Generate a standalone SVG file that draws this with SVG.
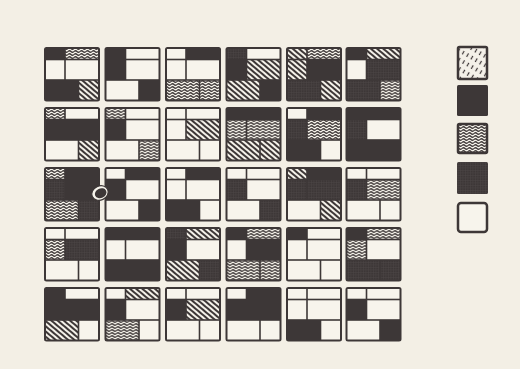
<svg xmlns="http://www.w3.org/2000/svg" width="520" height="369" viewBox="0 0 520 369">
<style>
.bg{fill:#f3efe5}
.sq{fill:#3d3737}
.w{fill:#f7f4ec}
.h{fill:url(#h)}
.t{fill:url(#t)}
.g{fill:url(#g)}
.l1{fill:url(#h2)}
.lg{stroke:#3d3737;stroke-width:2.5}
</style>
<defs>
<pattern id="h" width="4" height="4" patternUnits="userSpaceOnUse" patternTransform="rotate(40)">
<rect width="4" height="4" fill="#f4f1e9"/><rect width="4" height="2" fill="#3d3737"/>
</pattern>
<pattern id="t" width="6" height="3" patternUnits="userSpaceOnUse">
<rect width="6" height="3" fill="#f4f1e9"/><path d="M0 1.5Q1.5 0 3 1.5T6 1.5" fill="none" stroke="#3d3737" stroke-width="1.3"/>
</pattern>
<pattern id="g" width="2.5" height="2.5" patternUnits="userSpaceOnUse">
<rect width="2.5" height="2.5" fill="#3d3737"/><path d="M0 0.3H2.5M0.3 0V2.5" stroke="#4d4647" stroke-width="0.5"/>
</pattern>
<pattern id="h2" width="8" height="5" patternUnits="userSpaceOnUse" patternTransform="rotate(-60)">
<rect width="8" height="5" fill="#f4f1e9"/><path d="M0 2.5h4" stroke="#3d3737" stroke-width="1.2"/>
</pattern>
</defs>
<rect class="bg" width="520" height="369"/>

<g id="r1c1" transform="translate(44,47)"><rect class="sq" width="56" height="54.5" rx="2.5"/><rect class="t" x="21.8" y="2" width="32.2" height="9.7"/><rect class="w" x="2" y="13.3" width="18.2" height="18.9"/><rect class="w" x="21.8" y="13.3" width="32.2" height="18.9"/><rect class="h" x="35.3" y="33.8" width="18.7" height="18.7"/></g>
<g id="r1c2" transform="translate(104.5,47)"><rect class="sq" width="56" height="54.5" rx="2.5"/><rect class="w" x="21.8" y="2" width="32.2" height="9.7"/><rect class="w" x="21.8" y="13.3" width="32.2" height="18.9"/><rect class="w" x="2" y="33.8" width="31.7" height="18.7"/></g>
<g id="r1c3" transform="translate(165,47)"><rect class="sq" width="56" height="54.5" rx="2.5"/><rect class="w" x="2" y="2" width="18.2" height="9.7"/><rect class="w" x="2" y="13.3" width="18.2" height="18.9"/><rect class="w" x="21.8" y="13.3" width="32.2" height="18.9"/><rect class="t" x="2" y="33.8" width="31.7" height="18.7"/><rect class="t" x="35.3" y="33.8" width="18.7" height="18.7"/></g>
<g id="r1c4" transform="translate(225.5,47)"><rect class="sq" width="56" height="54.5" rx="2.5"/><rect class="g" x="2" y="2" width="18.2" height="9.7"/><rect class="w" x="21.8" y="2" width="32.2" height="9.7"/><rect class="h" x="21.8" y="13.3" width="32.2" height="18.9"/><rect class="h" x="2" y="33.8" width="31.7" height="18.7"/></g>
<g id="r1c5" transform="translate(286,47)"><rect class="sq" width="56" height="54.5" rx="2.5"/><rect class="h" x="2" y="2" width="18.2" height="9.7"/><rect class="t" x="21.8" y="2" width="32.2" height="9.7"/><rect class="h" x="2" y="13.3" width="18.2" height="18.9"/><rect class="g" x="2" y="33.8" width="31.7" height="18.7"/><rect class="h" x="35.3" y="33.8" width="18.7" height="18.7"/></g>
<g id="r1c6" transform="translate(345.5,47)"><rect class="sq" width="56" height="54.5" rx="2.5"/><rect class="h" x="21.8" y="2" width="32.2" height="9.7"/><rect class="w" x="2" y="13.3" width="18.2" height="18.9"/><rect class="g" x="21.8" y="13.3" width="32.2" height="18.9"/><rect class="g" x="2" y="33.8" width="31.7" height="18.7"/><rect class="t" x="35.3" y="33.8" width="18.7" height="18.7"/></g>

<g id="r2c1" transform="translate(44,107)"><rect class="sq" width="56" height="54.5" rx="2.5"/><rect class="t" x="2" y="2" width="18.2" height="9.7"/><rect class="w" x="21.8" y="2" width="32.2" height="9.7"/><rect class="w" x="2" y="33.8" width="31.7" height="18.7"/><rect class="h" x="35.3" y="33.8" width="18.7" height="18.7"/></g>
<g id="r2c2" transform="translate(104.5,107)"><rect class="sq" width="56" height="54.5" rx="2.5"/><rect class="t" x="2" y="2" width="18.2" height="9.7"/><rect class="w" x="21.8" y="2" width="32.2" height="9.7"/><rect class="w" x="21.8" y="13.3" width="32.2" height="18.9"/><rect class="w" x="2" y="33.8" width="31.7" height="18.7"/><rect class="t" x="35.3" y="33.8" width="18.7" height="18.7"/></g>
<g id="r2c3" transform="translate(165,107)"><rect class="sq" width="56" height="54.5" rx="2.5"/><rect class="w" x="2" y="2" width="18.2" height="9.7"/><rect class="w" x="21.8" y="2" width="32.2" height="9.7"/><rect class="w" x="2" y="13.3" width="18.2" height="18.9"/><rect class="h" x="21.8" y="13.3" width="32.2" height="18.9"/><rect class="w" x="2" y="33.8" width="31.7" height="18.7"/><rect class="w" x="35.3" y="33.8" width="18.7" height="18.7"/></g>
<g id="r2c4" transform="translate(225.5,107)"><rect class="sq" width="56" height="54.5" rx="2.5"/><rect class="t" x="2" y="13.3" width="18.2" height="18.9"/><rect class="t" x="21.8" y="13.3" width="32.2" height="18.9"/><rect class="h" x="2" y="33.8" width="31.7" height="18.7"/><rect class="h" x="35.3" y="33.8" width="18.7" height="18.7"/></g>
<g id="r2c5" transform="translate(286,107)"><rect class="sq" width="56" height="54.5" rx="2.5"/><rect class="w" x="2" y="2" width="18.2" height="9.7"/><rect class="g" x="2" y="13.3" width="18.2" height="18.9"/><rect class="t" x="21.8" y="13.3" width="32.2" height="18.9"/><rect class="w" x="35.3" y="33.8" width="18.7" height="18.7"/></g>
<g id="r2c6" transform="translate(345.5,107)"><rect class="sq" width="56" height="54.5" rx="2.5"/><rect class="g" x="2" y="13.3" width="18.2" height="18.9"/><rect class="w" x="21.8" y="13.3" width="32.2" height="18.9"/></g>

<g id="r3c1" transform="translate(44,167)"><rect class="sq" width="56" height="54.5" rx="2.5"/><rect class="t" x="2" y="2" width="18.2" height="9.7"/><rect class="g" x="2" y="13.3" width="18.2" height="18.9"/><rect class="t" x="2" y="33.8" width="31.7" height="18.7"/><rect class="g" x="35.3" y="33.8" width="18.7" height="18.7"/></g>
<g id="r3c2" transform="translate(104.5,167)"><rect class="sq" width="56" height="54.5" rx="2.5"/><rect class="w" x="2" y="2" width="18.2" height="9.7"/><rect class="w" x="21.8" y="13.3" width="32.2" height="18.9"/><rect class="w" x="2" y="33.8" width="31.7" height="18.7"/></g>
<g id="r3c3" transform="translate(165,167)"><rect class="sq" width="56" height="54.5" rx="2.5"/><rect class="w" x="2" y="2" width="18.2" height="9.7"/><rect class="w" x="2" y="13.3" width="18.2" height="18.9"/><rect class="w" x="21.8" y="13.3" width="32.2" height="18.9"/><rect class="w" x="35.3" y="33.8" width="18.7" height="18.7"/></g>
<g id="r3c4" transform="translate(225.5,167)"><rect class="sq" width="56" height="54.5" rx="2.5"/><rect class="w" x="2" y="2" width="18.2" height="9.7"/><rect class="w" x="21.8" y="2" width="32.2" height="9.7"/><rect class="g" x="2" y="13.3" width="18.2" height="18.9"/><rect class="w" x="21.8" y="13.3" width="32.2" height="18.9"/><rect class="w" x="2" y="33.8" width="31.7" height="18.7"/><rect class="g" x="35.3" y="33.8" width="18.7" height="18.7"/></g>
<g id="r3c5" transform="translate(286,167)"><rect class="sq" width="56" height="54.5" rx="2.5"/><rect class="h" x="2" y="2" width="18.2" height="9.7"/><rect class="g" x="2" y="13.3" width="18.2" height="18.9"/><rect class="g" x="21.8" y="13.3" width="32.2" height="18.9"/><rect class="w" x="2" y="33.8" width="31.7" height="18.7"/><rect class="h" x="35.3" y="33.8" width="18.7" height="18.7"/></g>
<g id="r3c6" transform="translate(345.5,167)"><rect class="sq" width="56" height="54.5" rx="2.5"/><rect class="w" x="2" y="2" width="18.2" height="9.7"/><rect class="w" x="21.8" y="2" width="32.2" height="9.7"/><rect class="g" x="2" y="13.3" width="18.2" height="18.9"/><rect class="t" x="21.8" y="13.3" width="32.2" height="18.9"/><rect class="w" x="2" y="33.8" width="31.7" height="18.7"/><rect class="w" x="35.3" y="33.8" width="18.7" height="18.7"/></g>

<g id="r4c1" transform="translate(44,227)"><rect class="sq" width="56" height="54.5" rx="2.5"/><rect class="w" x="2" y="2" width="18.2" height="9.7"/><rect class="w" x="21.8" y="2" width="32.2" height="9.7"/><rect class="t" x="2" y="13.3" width="18.2" height="18.9"/><rect class="g" x="21.8" y="13.3" width="32.2" height="18.9"/><rect class="w" x="2" y="33.8" width="31.7" height="18.7"/><rect class="w" x="35.3" y="33.8" width="18.7" height="18.7"/></g>
<g id="r4c2" transform="translate(104.5,227)"><rect class="sq" width="56" height="54.5" rx="2.5"/><rect class="w" x="2" y="13.3" width="18.2" height="18.9"/><rect class="w" x="21.8" y="13.3" width="32.2" height="18.9"/></g>
<g id="r4c3" transform="translate(165,227)"><rect class="sq" width="56" height="54.5" rx="2.5"/><rect class="g" x="2" y="2" width="18.2" height="9.7"/><rect class="h" x="21.8" y="2" width="32.2" height="9.7"/><rect class="w" x="21.8" y="13.3" width="32.2" height="18.9"/><rect class="h" x="2" y="33.8" width="31.7" height="18.7"/><rect class="g" x="35.3" y="33.8" width="18.7" height="18.7"/></g>
<g id="r4c4" transform="translate(225.5,227)"><rect class="sq" width="56" height="54.5" rx="2.5"/><rect class="t" x="21.8" y="2" width="32.2" height="9.7"/><rect class="w" x="2" y="13.3" width="18.2" height="18.9"/><rect class="t" x="2" y="33.8" width="31.7" height="18.7"/><rect class="t" x="35.3" y="33.8" width="18.7" height="18.7"/></g>
<g id="r4c5" transform="translate(286,227)"><rect class="sq" width="56" height="54.5" rx="2.5"/><rect class="w" x="21.8" y="2" width="32.2" height="9.7"/><rect class="w" x="2" y="13.3" width="18.2" height="18.9"/><rect class="w" x="21.8" y="13.3" width="32.2" height="18.9"/><rect class="w" x="2" y="33.8" width="31.7" height="18.7"/><rect class="w" x="35.3" y="33.8" width="18.7" height="18.7"/></g>
<g id="r4c6" transform="translate(345.5,227)"><rect class="sq" width="56" height="54.5" rx="2.5"/><rect class="t" x="21.8" y="2" width="32.2" height="9.7"/><rect class="t" x="2" y="13.3" width="18.2" height="18.9"/><rect class="w" x="21.8" y="13.3" width="32.2" height="18.9"/><rect class="g" x="2" y="33.8" width="31.7" height="18.7"/><rect class="g" x="35.3" y="33.8" width="18.7" height="18.7"/></g>

<g id="r5c1" transform="translate(44,287)"><rect class="sq" width="56" height="54.5" rx="2.5"/><rect class="w" x="21.8" y="2" width="32.2" height="9.7"/><rect class="h" x="2" y="33.8" width="31.7" height="18.7"/><rect class="w" x="35.3" y="33.8" width="18.7" height="18.7"/></g>
<g id="r5c2" transform="translate(104.5,287)"><rect class="sq" width="56" height="54.5" rx="2.5"/><rect class="w" x="2" y="2" width="18.2" height="9.7"/><rect class="h" x="21.8" y="2" width="32.2" height="9.7"/><rect class="w" x="21.8" y="13.3" width="32.2" height="18.9"/><rect class="t" x="2" y="33.8" width="31.7" height="18.7"/><rect class="w" x="35.3" y="33.8" width="18.7" height="18.7"/></g>
<g id="r5c3" transform="translate(165,287)"><rect class="sq" width="56" height="54.5" rx="2.5"/><rect class="w" x="2" y="2" width="18.2" height="9.7"/><rect class="w" x="21.8" y="2" width="32.2" height="9.7"/><rect class="h" x="21.8" y="13.3" width="32.2" height="18.9"/><rect class="w" x="2" y="33.8" width="31.7" height="18.7"/><rect class="w" x="35.3" y="33.8" width="18.7" height="18.7"/></g>
<g id="r5c4" transform="translate(225.5,287)"><rect class="sq" width="56" height="54.5" rx="2.5"/><rect class="w" x="2" y="2" width="18.2" height="9.7"/><rect class="w" x="2" y="33.8" width="31.7" height="18.7"/><rect class="w" x="35.3" y="33.8" width="18.7" height="18.7"/></g>
<g id="r5c5" transform="translate(286,287)"><rect class="sq" width="56" height="54.5" rx="2.5"/><rect class="w" x="2" y="2" width="18.2" height="9.7"/><rect class="w" x="21.8" y="2" width="32.2" height="9.7"/><rect class="w" x="2" y="13.3" width="18.2" height="18.9"/><rect class="w" x="21.8" y="13.3" width="32.2" height="18.9"/><rect class="w" x="35.3" y="33.8" width="18.7" height="18.7"/></g>
<g id="r5c6" transform="translate(345.5,287)"><rect class="sq" width="56" height="54.5" rx="2.5"/><rect class="w" x="2" y="2" width="18.2" height="9.7"/><rect class="w" x="21.8" y="2" width="32.2" height="9.7"/><rect class="w" x="21.8" y="13.3" width="32.2" height="18.9"/><rect class="w" x="2" y="33.8" width="31.7" height="18.7"/></g>

<g id="blob"><ellipse cx="100" cy="193" rx="8.5" ry="7" transform="rotate(-25 100 193)" fill="#f7f4ec" stroke="#3d3737" stroke-width="1.2"/><ellipse cx="100.5" cy="193.5" rx="6" ry="4.8" transform="rotate(-25 100 193)" fill="#3d3737"/></g>

<g id="legend1"><rect class="l1 lg" x="458" y="47" width="29" height="32" rx="1.5"/></g>
<g id="legend2"><rect class="sq" x="457" y="85" width="31" height="31" rx="1.5"/></g>
<g id="legend3"><rect class="t lg" x="458" y="124" width="29" height="29" rx="1.5"/></g>
<g id="legend4"><rect class="g" x="457" y="162" width="31" height="32" rx="1.5"/></g>
<g id="legend5"><rect class="w lg" x="458" y="203" width="29" height="29" rx="3"/></g>
</svg>
